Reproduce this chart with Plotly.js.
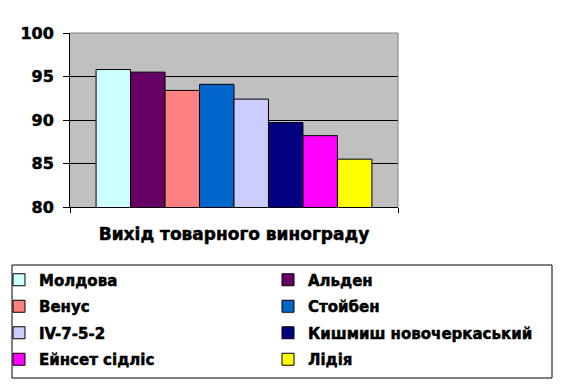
<!DOCTYPE html>
<html>
<head>
<meta charset="utf-8">
<script src="https://cdn.plot.ly/plotly-3.0.1.min.js"></script>
<style>
html,body{margin:0;padding:0;background:#fff;}
.main-svg text{font-weight:bold !important;stroke:#000;stroke-width:0.5px;}
</style>
</head>
<body>
<div id="chart" style="width:566px;height:384px;"></div>
<script>
const categories = ['Вихід товарного винограду'];
const varieties = ['Молдова', 'Альден', 'Венус', 'Стойбен', 'IV-7-5-2', 'Кишмиш новочеркаський', 'Ейнсет сідліс', 'Лідія'];
const values = [95.8, 95.5, 93.4, 94.1, 92.4, 89.7, 88.2, 85.5];
const colors = ['#ccffff', '#660066', '#ff8080', '#0066cc', '#ccccff', '#000080', '#ff00ff', '#ffff00'];

const W = 566, H = 384;
const M = {l: 70, r: 168, t: 33, b: 177, autoexpand: false};
const pw = W - M.l - M.r, ph = H - M.t - M.b;
const px = v => (v - M.l) / pw;
const py = v => (H - M.b - v) / ph;

const traces = varieties.map((name, i) => ({
  type: 'bar',
  name: name,
  x: categories,
  y: [values[i]],
  marker: {color: colors[i], line: {color: '#000', width: 1}},
  legend: i % 2 === 0 ? 'legend' : 'legend2',
  legendgroup: 'g' + i,
  hoverinfo: 'skip'
}));

const font = {family: 'DejaVu Sans', weight: 700, color: '#000'};
const legendCommon = {
  orientation: 'v',
  xanchor: 'left', yanchor: 'top',
  y: py(263.5),
  bgcolor: 'rgba(0,0,0,0)',
  borderwidth: 0,
  tracegroupgap: 4,
  itemclick: false,
  font: Object.assign({}, font, {size: 15})
};

const layout = {
  width: W, height: H,
  margin: M,
  paper_bgcolor: '#fff',
  plot_bgcolor: '#c0c0c0',
  font: Object.assign({}, font, {size: 16}),
  barmode: 'group',
  bargap: 0.159,
  bargroupgap: 0,
  showlegend: true,
  legend: Object.assign({}, legendCommon, {x: px(-1)}),
  legend2: Object.assign({}, legendCommon, {x: px(268)}),
  xaxis: {
    type: 'category',
    showline: true, linecolor: '#000', linewidth: 1,
    ticks: 'outside', tickson: 'boundaries', ticklen: 5, tickcolor: '#000',
    showgrid: false,
    ticklabelstandoff: 12,
    tickfont: Object.assign({}, font, {size: 17})
  },
  yaxis: {
    range: [80, 100],
    dtick: 5,
    showline: true, linecolor: '#000', linewidth: 1,
    ticks: 'outside', ticklen: 6, tickcolor: '#000',
    showgrid: true, gridcolor: '#000', gridwidth: 1,
    zeroline: false,
    ticklabelstandoff: 6,
    tickfont: Object.assign({}, font, {size: 16})
  },
  shapes: [
    {type: 'line', xref: 'x domain', yref: 'y domain', x0: 0, x1: 1, y0: 1, y1: 1, line: {color: '#808080', width: 1}, layer: 'above'},
    {type: 'line', xref: 'x domain', yref: 'y domain', x0: 1, x1: 1, y0: 0, y1: 1, line: {color: '#808080', width: 1}, layer: 'above'},
    {type: 'rect', xref: 'paper', yref: 'paper', x0: px(12), x1: px(552), y0: py(378), y1: py(265), line: {color: '#000', width: 1}, fillcolor: 'rgba(0,0,0,0)', layer: 'above'}
  ]
};

Plotly.newPlot('chart', traces, layout, {displayModeBar: false, staticPlot: true});
</script>
</body>
</html>
